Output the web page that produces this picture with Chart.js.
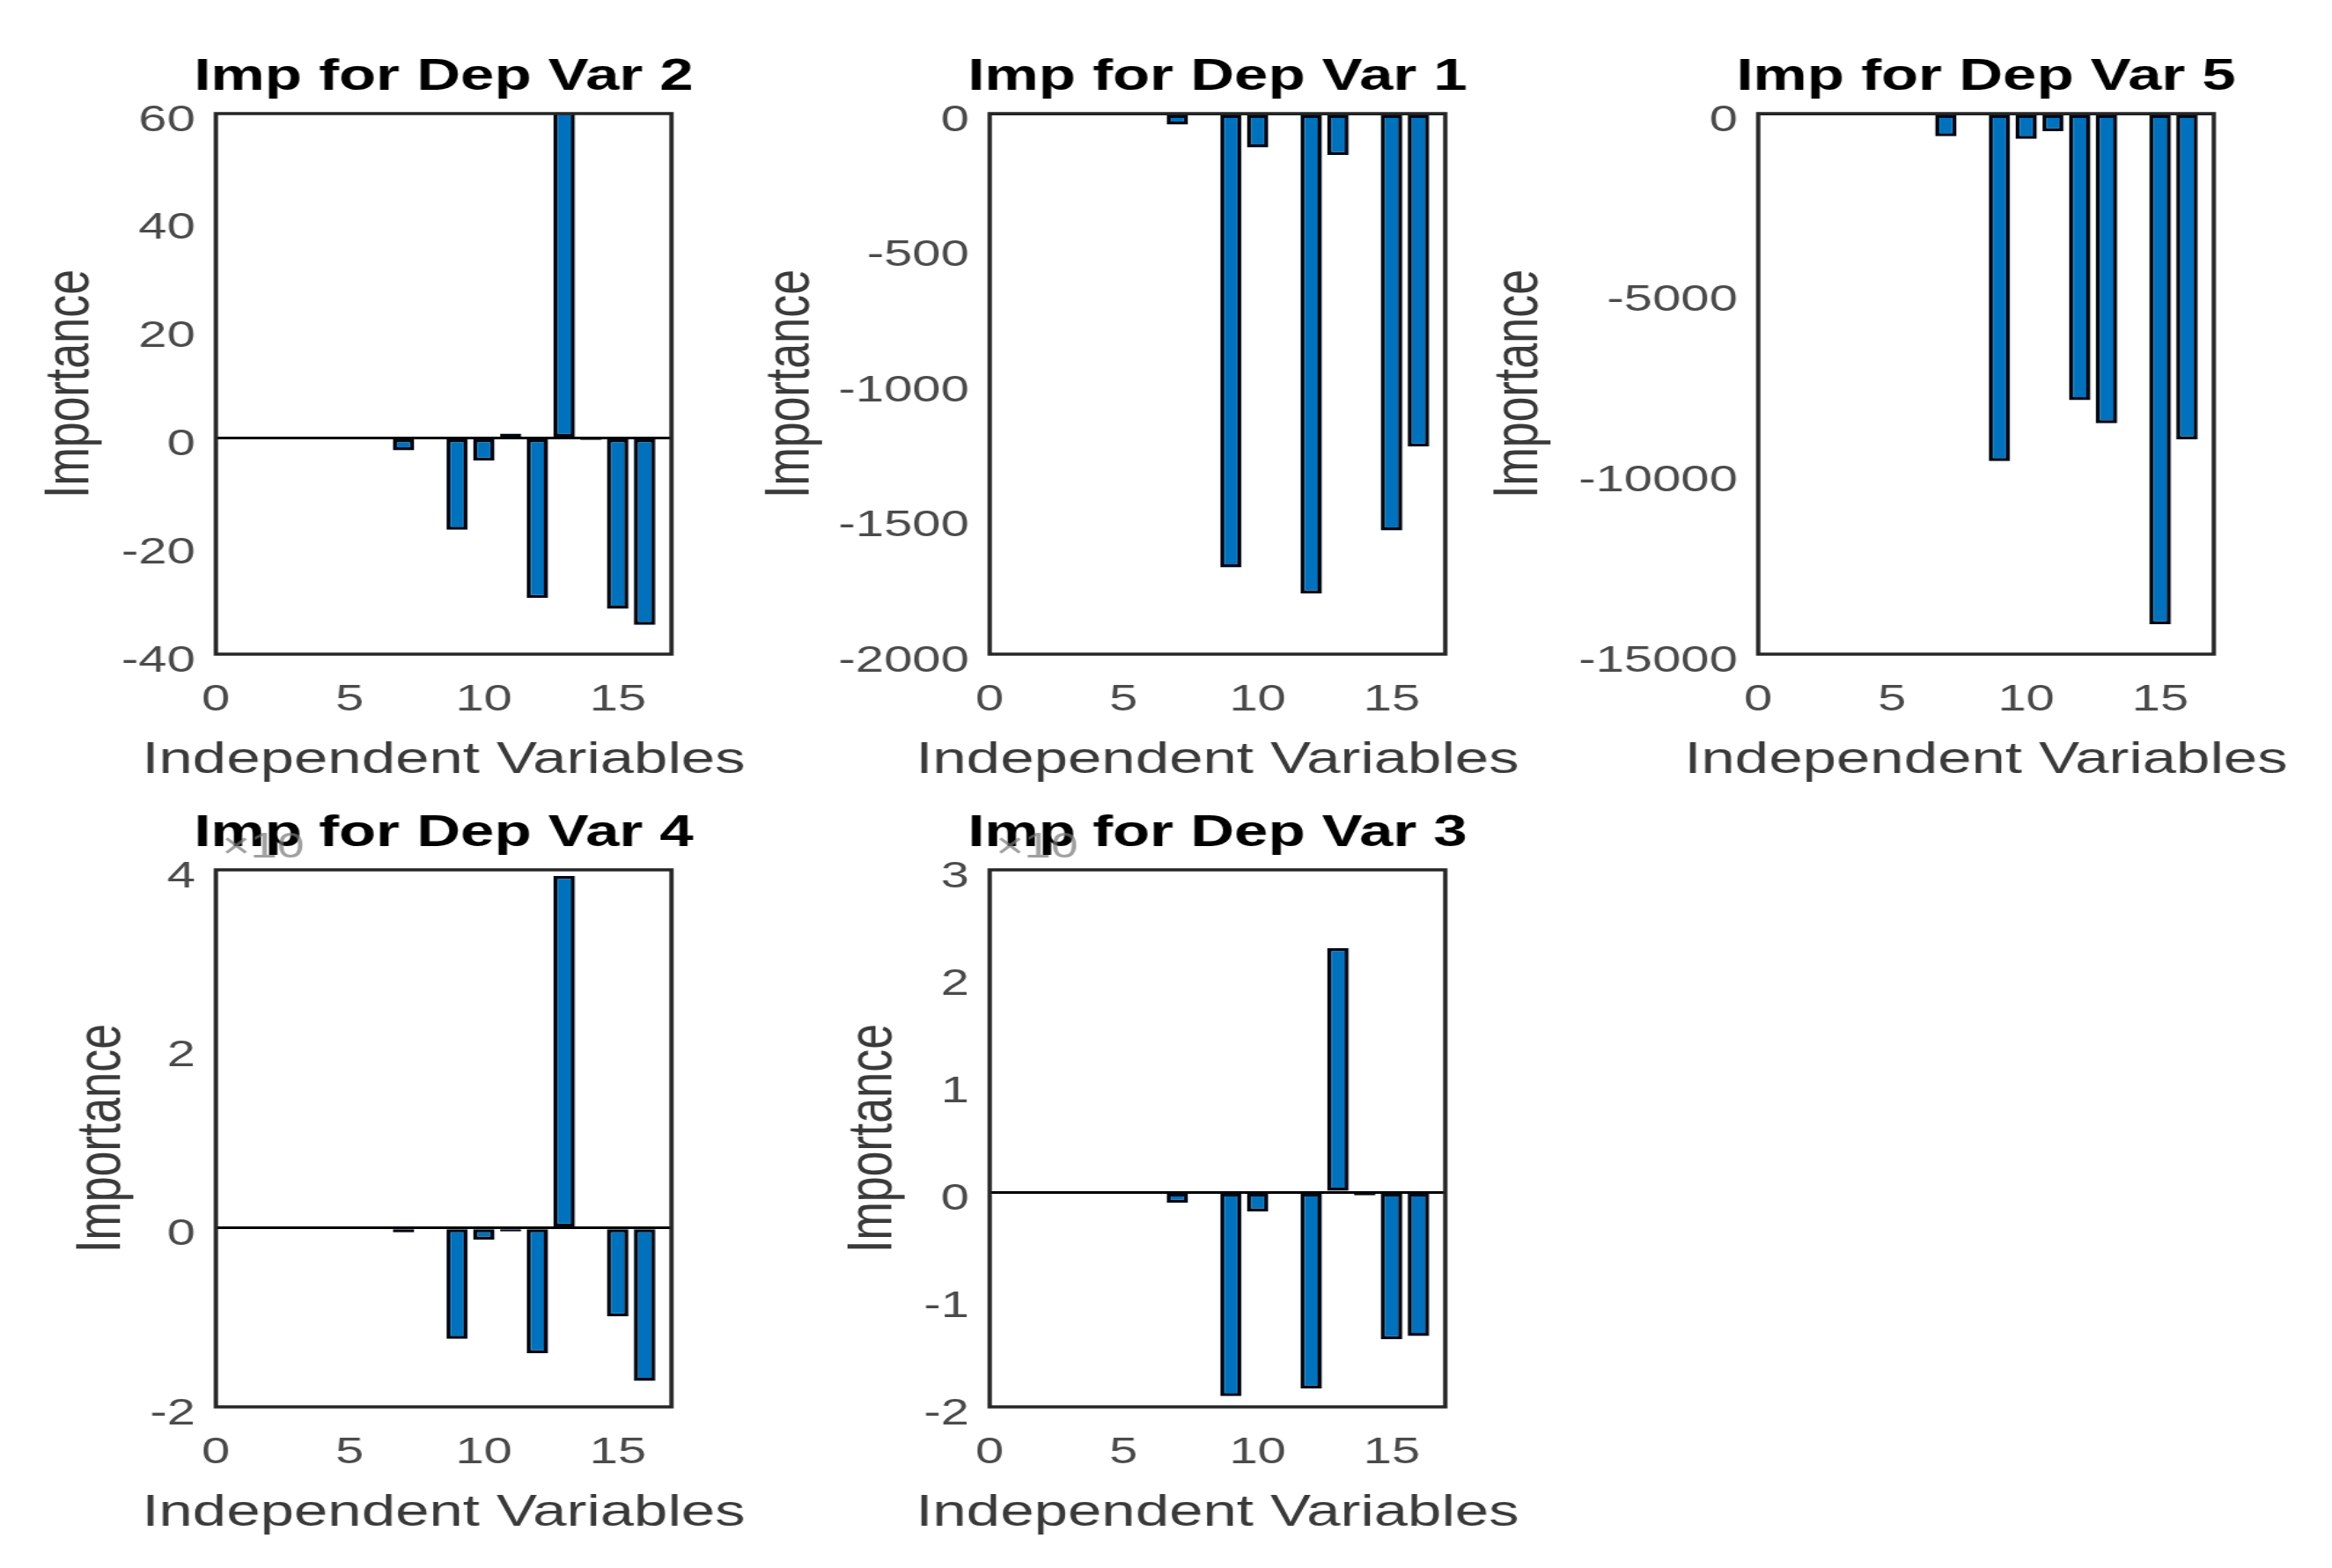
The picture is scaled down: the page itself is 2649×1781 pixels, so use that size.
<!DOCTYPE html>
<html>
<head>
<meta charset="utf-8">
<script src="https://cdn.jsdelivr.net/npm/chart.js@4.4.1/dist/chart.umd.min.js"></script>
<style>
html, body { margin: 0; padding: 0; background: #fff; width: 2649px; height: 1781px; overflow: hidden; }
body { position: relative; }
canvas { position: absolute; transform-origin: 0 0; }
</style>
</head>
<body>
<canvas id="dep2"></canvas>
<canvas id="dep1"></canvas>
<canvas id="dep5"></canvas>
<canvas id="dep4"></canvas>
<canvas id="dep3"></canvas>
<script>
// independent variables 1..16 on the x axis
var indepVars = [1, 2, 3, 4, 5, 6, 7, 8, 9, 10, 11, 12, 13, 14, 15, 16];
var xTicks = [0, 5, 10, 15];
var xMax = 17;

// importance values
var impDepVar2 = [0, 0, 0, 0, 0, 0, -2.3, 0, -17.0, -4.2, 0.8, -29.6, 68, -0.4, -31.6, -34.6];
var impDepVar1 = [0, 0, 0, 0, 0, 0, -41, 0, -1679, -125, 0, -1776, -153, 0, -1542, -1232];
var impDepVar5 = [0, 0, 0, 0, 0, 0, -630, 0, -9645, -700, -490, -7950, -8595, 0, -14170, -9040];
var impDepVar4 = [0, 0, 0, 0, 0, 0, -0.05, 0, -1.24, -0.13, -0.04, -1.40, 3.93, 0, -0.99, -1.71];
var impDepVar3 = [0, 0, 0, 0, 0, 0, -0.10, 0, -1.90, -0.18, 0, -1.83, 2.27, -0.03, -1.37, -1.34];

// y tick labels for each panel
var yTicksDepVar2 = [-40, -20, 0, 20, 40, 60];
var yTicksDepVar1 = [-2000, -1500, -1000, -500, 0];
var yTicksDepVar5 = [-15000, -10000, -5000, 0];
var yTicksDepVar4 = [-2, 0, 2, 4];
var yTicksDepVar3 = [-2, -1, 0, 1, 2, 3];

// the picture is stretched sideways, so every canvas is drawn narrow and scaled in x
var STRETCH = 1.38;
var AXIS_W = 240, PLOT_W = 375, TOP_H = 129, BOTTOM_H = 175;
var FONT = 'Liberation Sans';

// box round the axes, title, x label and the x10 note
var framePlugin = {
    id: 'frame',
    afterDraw: function (chart, args, opts) {
        var ctx = chart.ctx, a = chart.chartArea;
        var cx = (a.left + a.right) / 2;
        ctx.save();
        ctx.strokeStyle = '#262626';
        ctx.lineWidth = 3.5;
        ctx.strokeRect(a.left, a.top, a.right - a.left, a.bottom - a.top);

        ctx.textAlign = 'center';
        ctx.textBaseline = 'middle';
        ctx.fillStyle = '#000';
        ctx.font = 'bold 50px "' + FONT + '"';
        ctx.fillText(opts.title, cx, a.top - 41);

        ctx.fillStyle = '#3a3a3a';
        ctx.font = '50px "' + FONT + '"';
        ctx.fillText('Independent Variables', cx, a.bottom + 121);

        if (opts.multiplier) {
            ctx.font = '40px "' + FONT + '"';
            ctx.fillStyle = 'rgba(120,120,120,0.7)';
            ctx.textAlign = 'left';
            ctx.fillText(opts.multiplier, a.left + 5, a.top - 25);
        }
        ctx.restore();
    }
};

function makeChart(id, title, values, yTicks, boxLeft, boxTop, plotH, yTitlePad, multiplier) {
    var canvas = document.getElementById(id);
    canvas.width = AXIS_W * 2 + PLOT_W;
    canvas.height = TOP_H + plotH + BOTTOM_H;
    canvas.style.left = (boxLeft - AXIS_W * STRETCH) + 'px';
    canvas.style.top = (boxTop - TOP_H) + 'px';
    canvas.style.transform = 'scaleX(' + STRETCH + ')';

    var points = values.map(function (v, i) { return { x: indepVars[i], y: v }; });

    return new Chart(canvas, {
        type: 'bar',
        data: {
            datasets: [{
                data: points,
                backgroundColor: '#0072BD',
                borderColor: '#000814',
                borderWidth: 3.5,
                borderSkipped: false,
                categoryPercentage: 1,
                barPercentage: 0.8
            }]
        },
        plugins: [framePlugin],
        options: {
            responsive: false,
            animation: false,
            layout: { padding: { left: 0, right: AXIS_W, top: TOP_H, bottom: 0 } },
            plugins: {
                legend: { display: false },
                tooltip: { enabled: false },
                title: { display: false },
                frame: { title: title, multiplier: multiplier }
            },
            scales: {
                x: {
                    type: 'linear',
                    min: 0,
                    max: xMax,
                    offset: false,
                    grid: { display: false, drawTicks: false, offset: false },
                    border: { display: false },
                    ticks: {
                        stepSize: 5,
                        includeBounds: false,
                        autoSkip: false,
                        maxRotation: 0,
                        padding: 27,
                        color: '#4a4a4a',
                        font: { family: FONT, size: 42 },
                        callback: function (v) { return xTicks.indexOf(v) >= 0 ? String(v) : ''; }
                    },
                    afterFit: function (s) { s.height = BOTTOM_H; }
                },
                y: {
                    min: yTicks[0],
                    max: yTicks[yTicks.length - 1],
                    grid: {
                        drawTicks: false,
                        lineWidth: 3,
                        color: function (c) { return c.tick && c.tick.value === 0 ? '#000' : 'rgba(0,0,0,0)'; }
                    },
                    border: { display: false },
                    ticks: {
                        stepSize: yTicks[1] - yTicks[0],
                        padding: 17,
                        labelOffset: 8,
                        color: '#4a4a4a',
                        font: { family: FONT, size: 42 },
                        callback: function (v) { return String(v); }
                    },
                    title: {
                        display: true,
                        text: 'Importance',
                        color: '#3a3a3a',
                        font: { family: FONT, size: 52, lineHeight: 1.2 },
                        padding: { top: yTitlePad, bottom: 0 }
                    },
                    afterFit: function (s) { s.width = AXIS_W; }
                }
            }
        }
    });
}

makeChart('dep2', 'Imp for Dep Var 2', impDepVar2, yTicksDepVar2, 245, 129, 614, 89, null);
makeChart('dep1', 'Imp for Dep Var 1', impDepVar1, yTicksDepVar1, 1124, 129, 614, 45, null);
makeChart('dep5', 'Imp for Dep Var 5', impDepVar5, yTicksDepVar5, 1997, 129, 614, 12, null);
makeChart('dep4', 'Imp for Dep Var 4', impDepVar4, yTicksDepVar4, 245, 988, 610, 115, '\u00d710');
makeChart('dep3', 'Imp for Dep Var 3', impDepVar3, yTicksDepVar3, 1124, 988, 610, 113, '\u00d710');
</script>
</body>
</html>
